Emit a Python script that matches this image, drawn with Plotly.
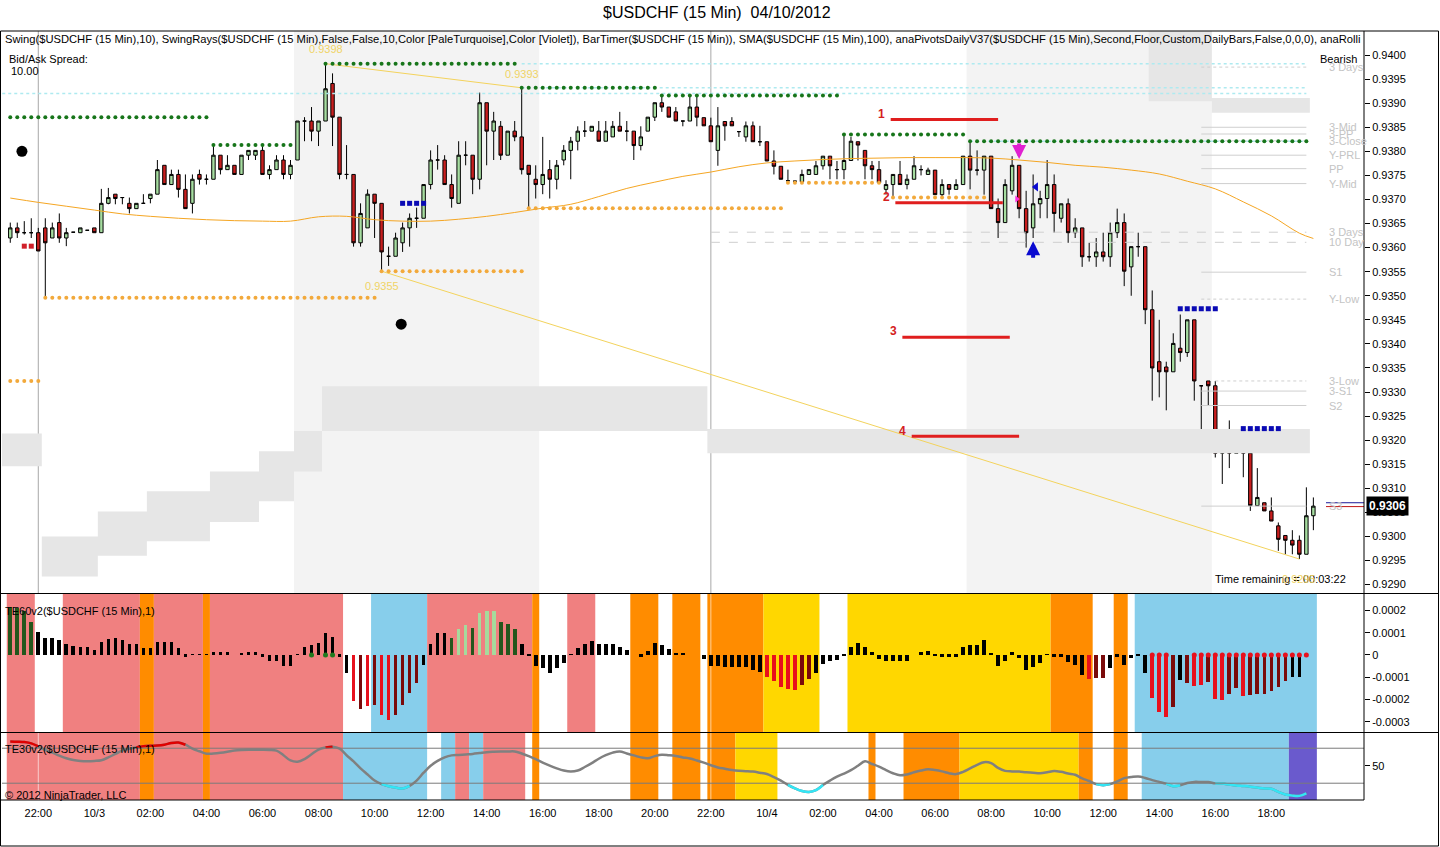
# $USDCHF 15 min chart with TE60v2 / TE30v2 panels, rebuilt in plotly
# writes out.html

import pandas as pd
import plotly.graph_objects as go

W, H = 1440, 847

# ---------------------------------------------------------------- price bars
first_bar = "2012-10-02 21:00"   # bars are 15 min, last one 04/10 19:30

opens = [
    0.93620, 0.93641, 0.93631, 0.93631, 0.93631, 0.93641, 0.93620, 0.93652, 0.93620, 0.93632,
    0.93631, 0.93636, 0.93641, 0.93631, 0.93692, 0.93711, 0.93704, 0.93692, 0.93681, 0.93692,
    0.93702, 0.93711, 0.93771, 0.93731, 0.93752, 0.93721, 0.93692, 0.93752, 0.93742, 0.93742,
    0.93792, 0.93762, 0.93771, 0.93752, 0.93792, 0.93792, 0.93802, 0.93752, 0.93762, 0.93782,
    0.93752, 0.93782, 0.93863, 0.93863, 0.93842, 0.93863, 0.93941, 0.93871, 0.93752, 0.93752,
    0.93610, 0.93641, 0.93711, 0.93692, 0.93582, 0.93582, 0.93610, 0.93641, 0.93661, 0.93661,
    0.93731, 0.93782, 0.93782, 0.93731, 0.93692, 0.93792, 0.93792, 0.93742, 0.93901, 0.93842,
    0.93852, 0.93792, 0.93842, 0.93830, 0.93771, 0.93742, 0.93731, 0.93762, 0.93742, 0.93782,
    0.93802, 0.93821, 0.93842, 0.93842, 0.93842, 0.93821, 0.93830, 0.93852, 0.93842, 0.93842,
    0.93812, 0.93842, 0.93871, 0.93901, 0.93892, 0.93882, 0.93863, 0.93863, 0.93892, 0.93870,
    0.93853, 0.93802, 0.93862, 0.93862, 0.93841, 0.93830, 0.93853, 0.93820, 0.93820, 0.93780,
    0.93769, 0.93739, 0.93738, 0.93737, 0.93752, 0.93752, 0.93770, 0.93790, 0.93762, 0.93762,
    0.93781, 0.93820, 0.93802, 0.93770, 0.93762, 0.93721, 0.93731, 0.93752, 0.93731, 0.93742,
    0.93762, 0.93752, 0.93761, 0.93710, 0.93731, 0.93721, 0.93731, 0.93790, 0.93761, 0.93761,
    0.93790, 0.93681, 0.93652, 0.93718, 0.93771, 0.93681, 0.93641, 0.93691, 0.93702, 0.93731,
    0.93661, 0.93691, 0.93631, 0.93641, 0.93581, 0.93581, 0.93591, 0.93581, 0.93631, 0.93652,
    0.93560, 0.93602, 0.93602, 0.93471, 0.93363, 0.93352, 0.93342, 0.93391, 0.93382, 0.93450,
    0.93313, 0.93323, 0.93313, 0.93173, 0.93212, 0.93173, 0.93182, 0.93173, 0.93064, 0.93070,
    0.93053, 0.93022, 0.93002, 0.92992, 0.92992, 0.92963, 0.93043,
]
highs = [
    0.93652, 0.93652, 0.93655, 0.93661, 0.93641, 0.93661, 0.93652, 0.93671, 0.93641, 0.93632,
    0.93641, 0.93636, 0.93641, 0.93722, 0.93724, 0.93711, 0.93704, 0.93704, 0.93692, 0.93711,
    0.93711, 0.93782, 0.93771, 0.93762, 0.93762, 0.93752, 0.93752, 0.93762, 0.93752, 0.93814,
    0.93792, 0.93792, 0.93771, 0.93792, 0.93802, 0.93802, 0.93813, 0.93771, 0.93792, 0.93792,
    0.93782, 0.93863, 0.93871, 0.93892, 0.93863, 0.93982, 0.93962, 0.93871, 0.93813, 0.93752,
    0.93692, 0.93721, 0.93711, 0.93692, 0.93602, 0.93631, 0.93652, 0.93671, 0.93683, 0.93731,
    0.93802, 0.93813, 0.93792, 0.93752, 0.93821, 0.93821, 0.93792, 0.93922, 0.93901, 0.93882,
    0.93863, 0.93842, 0.93863, 0.93932, 0.93771, 0.93771, 0.93830, 0.93782, 0.93782, 0.93813,
    0.93830, 0.93852, 0.93863, 0.93852, 0.93863, 0.93863, 0.93863, 0.93882, 0.93863, 0.93842,
    0.93852, 0.93871, 0.93901, 0.93916, 0.93892, 0.93892, 0.93863, 0.93913, 0.93913, 0.93870,
    0.93870, 0.93892, 0.93862, 0.93871, 0.93841, 0.93862, 0.93862, 0.93853, 0.93820, 0.93802,
    0.93769, 0.93762, 0.93738, 0.93762, 0.93762, 0.93780, 0.93790, 0.93790, 0.93780, 0.93835,
    0.93830, 0.93820, 0.93802, 0.93780, 0.93780, 0.93740, 0.93752, 0.93780, 0.93752, 0.93790,
    0.93771, 0.93766, 0.93761, 0.93742, 0.93731, 0.93742, 0.93790, 0.93821, 0.93802, 0.93790,
    0.93790, 0.93702, 0.93742, 0.93790, 0.93771, 0.93718, 0.93752, 0.93718, 0.93782, 0.93752,
    0.93691, 0.93702, 0.93661, 0.93641, 0.93610, 0.93620, 0.93631, 0.93652, 0.93681, 0.93671,
    0.93602, 0.93631, 0.93602, 0.93511, 0.93450, 0.93363, 0.93422, 0.93461, 0.93450, 0.93450,
    0.93313, 0.93323, 0.93323, 0.93222, 0.93241, 0.93222, 0.93192, 0.93182, 0.93142, 0.93070,
    0.93081, 0.93029, 0.93002, 0.93013, 0.93002, 0.93102, 0.93081,
]
lows = [
    0.93610, 0.93620, 0.93627, 0.93620, 0.93593, 0.93496, 0.93620, 0.93610, 0.93603, 0.93632,
    0.93631, 0.93636, 0.93631, 0.93631, 0.93690, 0.93690, 0.93690, 0.93671, 0.93681, 0.93692,
    0.93692, 0.93711, 0.93731, 0.93731, 0.93704, 0.93681, 0.93671, 0.93731, 0.93731, 0.93742,
    0.93752, 0.93762, 0.93752, 0.93752, 0.93782, 0.93782, 0.93752, 0.93742, 0.93762, 0.93742,
    0.93742, 0.93782, 0.93821, 0.93821, 0.93811, 0.93863, 0.93811, 0.93742, 0.93742, 0.93602,
    0.93602, 0.93641, 0.93620, 0.93551, 0.93562, 0.93582, 0.93591, 0.93602, 0.93641, 0.93661,
    0.93721, 0.93762, 0.93731, 0.93683, 0.93692, 0.93771, 0.93711, 0.93721, 0.93771, 0.93782,
    0.93782, 0.93792, 0.93821, 0.93752, 0.93682, 0.93702, 0.93711, 0.93702, 0.93721, 0.93771,
    0.93742, 0.93802, 0.93830, 0.93842, 0.93821, 0.93821, 0.93830, 0.93842, 0.93821, 0.93782,
    0.93802, 0.93842, 0.93863, 0.93882, 0.93871, 0.93863, 0.93852, 0.93863, 0.93852, 0.93853,
    0.93820, 0.93770, 0.93822, 0.93853, 0.93830, 0.93820, 0.93820, 0.93811, 0.93780, 0.93752,
    0.93742, 0.93738, 0.93738, 0.93737, 0.93752, 0.93752, 0.93762, 0.93742, 0.93742, 0.93742,
    0.93781, 0.93781, 0.93742, 0.93742, 0.93735, 0.93710, 0.93704, 0.93731, 0.93721, 0.93742,
    0.93750, 0.93752, 0.93710, 0.93707, 0.93710, 0.93721, 0.93731, 0.93721, 0.93750, 0.93710,
    0.93681, 0.93620, 0.93652, 0.93710, 0.93661, 0.93600, 0.93620, 0.93661, 0.93661, 0.93631,
    0.93652, 0.93610, 0.93620, 0.93560, 0.93571, 0.93560, 0.93571, 0.93560, 0.93620, 0.93520,
    0.93500, 0.93581, 0.93441, 0.93282, 0.93289, 0.93262, 0.93342, 0.93363, 0.93373, 0.93282,
    0.93190, 0.93273, 0.93164, 0.93109, 0.93142, 0.93173, 0.93123, 0.93053, 0.93064, 0.93053,
    0.93032, 0.92970, 0.92963, 0.92963, 0.92953, 0.92963, 0.93013,
]
closes = [
    0.93641, 0.93631, 0.93631, 0.93631, 0.93593, 0.93610, 0.93641, 0.93620, 0.93631, 0.93632,
    0.93641, 0.93636, 0.93631, 0.93692, 0.93704, 0.93702, 0.93704, 0.93681, 0.93692, 0.93692,
    0.93711, 0.93762, 0.93731, 0.93752, 0.93721, 0.93681, 0.93742, 0.93742, 0.93742, 0.93792,
    0.93762, 0.93771, 0.93752, 0.93792, 0.93802, 0.93802, 0.93752, 0.93762, 0.93782, 0.93752,
    0.93771, 0.93863, 0.93863, 0.93842, 0.93863, 0.93930, 0.93871, 0.93752, 0.93752, 0.93610,
    0.93671, 0.93711, 0.93692, 0.93591, 0.93582, 0.93620, 0.93641, 0.93661, 0.93661, 0.93731,
    0.93782, 0.93782, 0.93731, 0.93702, 0.93792, 0.93792, 0.93742, 0.93901, 0.93842, 0.93863,
    0.93792, 0.93842, 0.93830, 0.93762, 0.93752, 0.93731, 0.93752, 0.93742, 0.93771, 0.93802,
    0.93821, 0.93842, 0.93842, 0.93852, 0.93821, 0.93842, 0.93852, 0.93842, 0.93842, 0.93812,
    0.93830, 0.93871, 0.93901, 0.93892, 0.93871, 0.93863, 0.93863, 0.93892, 0.93871, 0.93853,
    0.93820, 0.93853, 0.93853, 0.93853, 0.93841, 0.93853, 0.93820, 0.93820, 0.93780, 0.93769,
    0.93742, 0.93739, 0.93738, 0.93752, 0.93762, 0.93770, 0.93790, 0.93770, 0.93762, 0.93781,
    0.93821, 0.93813, 0.93770, 0.93762, 0.93735, 0.93731, 0.93752, 0.93731, 0.93742, 0.93770,
    0.93762, 0.93761, 0.93710, 0.93731, 0.93721, 0.93731, 0.93790, 0.93761, 0.93761, 0.93790,
    0.93681, 0.93652, 0.93731, 0.93771, 0.93681, 0.93631, 0.93691, 0.93702, 0.93731, 0.93671,
    0.93691, 0.93631, 0.93641, 0.93581, 0.93581, 0.93591, 0.93581, 0.93631, 0.93652, 0.93551,
    0.93602, 0.93602, 0.93471, 0.93350, 0.93342, 0.93342, 0.93401, 0.93382, 0.93450, 0.93323,
    0.93313, 0.93313, 0.93173, 0.93212, 0.93173, 0.93192, 0.93173, 0.93064, 0.93081, 0.93053,
    0.93032, 0.92994, 0.92992, 0.92982, 0.92963, 0.93043, 0.93063,
]

# SMA(100), read once an hour
sma_time = list(pd.date_range("2012-10-02 21:00", "2012-10-04 19:00", freq="1h")) + [pd.Timestamp("2012-10-04 19:30")]
sma_val = [
    0.93703, 0.93694, 0.93686, 0.93678, 0.93670, 0.93665, 0.93661, 0.93658, 0.93656, 0.93655,
    0.93655, 0.93664, 0.93665, 0.93658, 0.93655, 0.93655, 0.93659, 0.93665, 0.93673, 0.93682,
    0.93690, 0.93706, 0.93723, 0.93736, 0.93748, 0.93757, 0.93768, 0.93776, 0.93780, 0.93783,
    0.93785, 0.93786, 0.93787, 0.93787, 0.93787, 0.93786, 0.93782, 0.93777, 0.93771, 0.93767,
    0.93761, 0.93753, 0.93738, 0.93722, 0.93695, 0.93666, 0.93630, 0.93619,
]

# Swing(10): swing high / low levels (first bar, last bar, price)
swing_hi_start = ["2012-10-02 21:00", "2012-10-03 04:15", "2012-10-03 08:15", "2012-10-03 15:15",
                  "2012-10-03 20:15", "2012-10-04 02:45", "2012-10-04 07:15"]
swing_hi_end = ["2012-10-03 04:00", "2012-10-03 07:00", "2012-10-03 15:00", "2012-10-03 20:00",
                "2012-10-04 02:30", "2012-10-04 07:00", "2012-10-04 19:15"]
swing_hi_price = [0.93871, 0.93813, 0.93982, 0.93932, 0.93916, 0.93835, 0.93821]

swing_lo_start = ["2012-10-02 21:00", "2012-10-02 22:15", "2012-10-03 10:15", "2012-10-03 15:30",
                  "2012-10-04 00:45", "2012-10-04 04:30"]
swing_lo_end = ["2012-10-02 22:00", "2012-10-03 10:00", "2012-10-03 15:15", "2012-10-04 00:30",
                "2012-10-04 04:00", "2012-10-04 07:45"]
swing_lo_price = [0.93323, 0.93496, 0.93551, 0.93682, 0.93735, 0.93704]

# SwingRays: high ray and low ray (start, end)
ray_t0 = ["2012-10-03 08:15", "2012-10-03 10:15"]
ray_p0 = [0.93982, 0.93551]
ray_t1 = ["2012-10-03 15:15", "2012-10-04 19:00"]
ray_p1 = [0.93932, 0.92953]

# PaleTurquoise ray levels
cyan_start = ["2012-10-02 20:30", "2012-10-03 15:15", "2012-10-03 15:15", "2012-10-04 07:15"]
cyan_price = [0.93920, 0.93932, 0.93982, 0.93821]
cyan_end = "2012-10-04 19:15"

# anaPivotsDailyV37 levels
piv_name = ["3 Days", "3-Mid", "3-PP", "3-Close", "Y-PRL", "PP", "Y-Mid", "3 Days", "10 Day",
            "S1", "Y-Low", "3-Low", "3-S1", "S2", "S3"]
piv_price = [0.93975, 0.93850, 0.93836, 0.93822, 0.93792, 0.93764, 0.93733, 0.93632, 0.93611,
             0.93549, 0.93493, 0.93323, 0.93302, 0.93272, 0.93063]
piv_start = ["2012-10-04 15:30", "2012-10-04 15:30", "2012-10-04 15:30", "2012-10-04 15:30",
             "2012-10-04 15:30", "2012-10-04 15:30", "2012-10-04 15:30", "2012-10-03 22:00",
             "2012-10-03 22:00", "2012-10-04 15:30", "2012-10-04 15:30", "2012-10-04 16:00",
             "2012-10-04 15:30", "2012-10-04 15:30", "2012-10-04 15:30"]
piv_dash = ["dot", "solid", "solid", "dot", "solid", "solid", "solid", "dash", "dash",
            "solid", "dot", "dot", "solid", "solid", "solid"]
piv_end = "2012-10-04 19:15"
piv_label_time = "2012-10-04 20:00"

# rolling range bands (step start, top, bottom) -- last row closes the step
band_lo_time = ["2012-10-02 20:37:30", "2012-10-02 22:07:30", "2012-10-03 00:07:30", "2012-10-03 01:52:30",
                "2012-10-03 04:07:30", "2012-10-03 05:52:30", "2012-10-03 07:07:30", "2012-10-03 08:07:30",
                "2012-10-03 21:52:30", "2012-10-04 19:22:30"]
band_lo_top = [0.93214, 0.93000, 0.93052, 0.93094, 0.93135, 0.93177, 0.93219, 0.93312, 0.93223, 0.93223]
band_lo_bot = [0.93146, 0.92917, 0.92960, 0.92990, 0.93030, 0.93073, 0.93135, 0.93219, 0.93173, 0.93173]

band_hi_time = ["2012-10-04 13:37:30", "2012-10-04 15:52:30", "2012-10-04 19:22:30"]
band_hi_top = [0.94060, 0.93911, 0.93911]
band_hi_bot = [0.93904, 0.93880, 0.93880]

# European sessions (first bar, last bar)
session_first = ["2012-10-03 07:15", "2012-10-04 07:15"]
session_last = ["2012-10-03 15:45", "2012-10-04 15:45"]
day_breaks = ["2012-10-02 22:00", "2012-10-03 22:00"]

# hand drawn lines 1-4
drawn_label = ["1", "2", "3", "4"]
drawn_t0 = ["2012-10-04 04:25", "2012-10-04 04:35", "2012-10-04 04:50", "2012-10-04 05:10"]
drawn_t1 = ["2012-10-04 08:15", "2012-10-04 08:25", "2012-10-04 08:40", "2012-10-04 09:00"]
drawn_price = [0.93866, 0.93693, 0.93414, 0.93208]

# markers on the price panel
black_dot_time = ["2012-10-02 21:25", "2012-10-03 10:57"]
black_dot_price = [0.93800, 0.93441]
blue_dash_start = ["2012-10-03 11:00", "2012-10-04 14:45", "2012-10-04 17:00"]
blue_dash_end = ["2012-10-03 11:45", "2012-10-04 16:00", "2012-10-04 18:15"]
blue_dash_price = [0.93692, 0.93473, 0.93224]
red_dash_start, red_dash_end, red_dash_price = "2012-10-02 21:30", "2012-10-02 21:45", 0.93603
arrow_dn = ("2012-10-04 09:00", 0.93784)   # tip of the magenta arrow
arrow_up = ("2012-10-04 09:30", 0.93613)   # tip of the blue arrow
mark_magenta = ("2012-10-04 08:55", 0.93701)
mark_blue = ("2012-10-04 09:36", 0.93726)
last_price = 0.93063
bid_line, ask_line = 0.93070, 0.93063

# ------------------------------------------------------------- TE60v2 panel
te60 = [  # x 1e-5, one per bar
    21.7, 20.9, 19.7, 14.9, 10.2, 7.8, 7.8, 6.7, 4.8, 4.2,
    3.7, 3.7, 2.2, 6.0, 7.2, 7.5, 6.7, 4.8, 4.8, 3.0,
    3.3, 6.0, 5.7, 5.7, 3.0, -0.7, 0.2, 0.2, 0.3, 1.5,
    1.5, 1.5, 0.0, 1.0, 1.5, 1.5, -0.7, -2.5, -2.5, -4.9,
    -4.9, 0.3, 3.7, 4.5, 5.2, 9.7, 8.2, -0.7, -8.2, -20.5,
    -24.4, -22.9, -22.4, -26.9, -29.1, -26.9, -22.4, -17.2, -12.7, -4.5,
    4.8, 9.7, 9.7, 7.5, 11.5, 13.5, 12.0, 19.0, 19.6, 19.9,
    14.6, 13.8, 11.5, 4.8, -0.3, -4.9, -6.0, -8.2, -6.0, -3.7,
    0.3, 3.0, 4.8, 6.3, 4.8, 4.8, 4.8, 3.7, 2.2, 0.0,
    -0.7, 1.8, 5.2, 4.5, 2.5, 0.7, 0.7, 0.0, 0.0, -1.8,
    -4.9, -4.9, -5.5, -5.5, -5.5, -5.5, -6.7, -7.5, -10.0, -11.5,
    -14.5, -15.2, -15.7, -13.5, -10.9, -8.2, -4.0, -2.7, -2.2, -0.3,
    3.7, 5.2, 3.7, 1.5, -1.8, -2.5, -2.5, -2.5, -2.5, 0.0,
    1.5, 1.9, -0.3, -0.7, -0.7, -0.7, 3.7, 4.5, 4.5, 6.7,
    0.7, -4.9, -2.5, 1.5, -1.5, -6.7, -5.2, -3.7, 0.3, -0.7,
    -0.7, -3.3, -4.5, -9.0, -10.9, -10.5, -10.5, -6.0, -0.7, -4.5,
    -1.5, -0.3, -8.2, -19.4, -25.4, -28.0, -23.2, -11.2, -12.7, -13.9,
    -13.5, -12.0, -19.7, -20.0, -17.5, -15.0, -18.5, -18.0, -17.5, -17.5,
    -16.0, -14.5, -11.8, -9.7, -9.7, -0.7, None,
]
# G dark green, g light green, k black, R red, r dark red
te60_state = ("GGGGkkkkkk" "kkkkkkkkkk" "kkkkkkkkkk" "kkkkkkkkkk" "kkkkkkkkkR"
              "rRrRRrrrrk" "kkkGggGggg" "GGGkkkkkkk" "kkkkkkkkkk" "kkkkkkkkkk"
              "kkkkkkkkRR" "RRRrrkkkkk" "kkkkkkkkkk" "kkkkkkkkkk" "kkkkkkkkkk"
              "kkkkRrrkkk" "kkkRRRrkrR" "RrRRrrRrrr" "rrrkkkk")
te60_green_dots = ["2012-10-03 07:45", "2012-10-03 08:15", "2012-10-03 08:30"]
te60_red_dots = ["2012-10-04 13:45", "2012-10-04 14:00", "2012-10-04 14:15", "2012-10-04 15:15",
                 "2012-10-04 15:30", "2012-10-04 15:45", "2012-10-04 16:00", "2012-10-04 16:15",
                 "2012-10-04 16:30", "2012-10-04 16:45", "2012-10-04 17:00", "2012-10-04 17:15",
                 "2012-10-04 17:30", "2012-10-04 17:45", "2012-10-04 18:00", "2012-10-04 18:15",
                 "2012-10-04 18:30", "2012-10-04 18:45", "2012-10-04 19:00", "2012-10-04 19:15"]

te60_bg_first = ["2012-10-02 21:00", "2012-10-02 23:00", "2012-10-03 01:45", "2012-10-03 02:15",
                 "2012-10-03 04:00", "2012-10-03 04:15", "2012-10-03 10:00", "2012-10-03 12:00",
                 "2012-10-03 15:45", "2012-10-03 17:00", "2012-10-03 19:15", "2012-10-03 20:45",
                 "2012-10-03 22:00", "2012-10-04 00:00", "2012-10-04 03:00", "2012-10-04 10:15",
                 "2012-10-04 12:30", "2012-10-04 13:15"]
te60_bg_last = ["2012-10-02 21:45", "2012-10-03 01:30", "2012-10-03 02:00", "2012-10-03 03:45",
                "2012-10-03 04:00", "2012-10-03 08:45", "2012-10-03 11:45", "2012-10-03 15:30",
                "2012-10-03 15:45", "2012-10-03 17:45", "2012-10-03 20:00", "2012-10-03 21:30",
                "2012-10-03 23:45", "2012-10-04 01:45", "2012-10-04 10:00", "2012-10-04 11:30",
                "2012-10-04 12:45", "2012-10-04 19:30"]
te60_bg_state = ["down", "down", "flat", "down", "flat", "down", "up", "down", "flat", "down",
                 "flat", "flat", "flat", "mid", "mid", "flat", "flat", "up"]

# ------------------------------------------------------------- TE30v2 panel
te30 = [
    77.8, 77.5, 77.0, 75.5, 72.0, 68.0, 65.0, 61.5, 58.5, 56.5,
    55.5, 55.2, 55.5, 56.3, 59.5, 63.5, 67.4, 69.5, 71.0, 72.2,
    72.8, 73.0, 74.0, 76.0, 76.5, 74.0, 69.5, 66.5, 63.7, 64.0,
    64.8, 66.0, 67.4, 68.0, 68.2, 68.2, 68.2, 68.0, 67.2, 62.0,
    56.0, 54.5, 57.5, 63.0, 68.5, 70.8, 71.8, 69.5, 62.0, 55.0,
    47.0, 40.0, 33.0, 29.0, 26.6, 25.0, 24.0, 27.0, 33.0, 42.0,
    50.0, 55.5, 59.5, 61.8, 62.3, 62.9, 63.5, 64.5, 65.5, 66.0,
    66.3, 66.3, 66.3, 64.0, 61.0, 57.5, 53.5, 50.0, 47.0, 44.5,
    43.3, 44.5, 48.5, 53.0, 58.0, 62.0, 65.0, 66.3, 64.0, 61.8,
    59.5, 58.5, 61.0, 62.6, 62.0, 61.1, 59.5, 58.2, 56.0, 53.5,
    50.5, 48.0, 46.5, 45.0, 44.1, 43.8, 43.3, 42.0, 40.5, 37.0,
    33.0, 28.0, 24.0, 21.0, 19.9, 22.0, 28.0, 33.0, 37.5, 41.0,
    45.0, 50.0, 55.0, 52.0, 48.9, 45.0, 41.4, 39.0, 40.0, 42.5,
    44.5, 45.9, 45.0, 43.5, 41.5, 40.4, 43.0, 47.0, 51.0, 54.0,
    53.0, 47.5, 44.1, 43.5, 43.3, 42.5, 42.0, 41.4, 42.5, 44.0,
    43.0, 41.0, 39.6, 35.5, 32.5, 29.0, 27.8, 29.0, 32.0, 35.8,
    37.0, 37.7, 36.0, 33.5, 31.5, 29.5, 26.6, 27.5, 30.3, 31.5,
    31.4, 31.4, 29.8, 29.6, 28.5, 27.5, 26.8, 26.0, 25.0, 24.0,
    23.6, 20.0, 17.0, 15.8, 15.5, 18.5, None,
]
te30_upper, te30_lower = 70, 30

te30_bg_first = ["2012-10-02 21:00", "2012-10-03 01:45", "2012-10-03 02:15", "2012-10-03 04:00",
                 "2012-10-03 04:15", "2012-10-03 09:00", "2012-10-03 12:30", "2012-10-03 13:00",
                 "2012-10-03 13:30", "2012-10-03 14:00", "2012-10-03 15:45", "2012-10-03 19:15",
                 "2012-10-03 20:45", "2012-10-03 22:00", "2012-10-03 23:00", "2012-10-04 03:45",
                 "2012-10-04 05:00", "2012-10-04 07:00", "2012-10-04 11:15", "2012-10-04 12:30",
                 "2012-10-04 13:30", "2012-10-04 18:45"]
te30_bg_last = ["2012-10-03 01:30", "2012-10-03 02:00", "2012-10-03 03:45", "2012-10-03 04:00",
                "2012-10-03 08:45", "2012-10-03 11:45", "2012-10-03 12:45", "2012-10-03 13:15",
                "2012-10-03 13:45", "2012-10-03 15:15", "2012-10-03 15:45", "2012-10-03 20:00",
                "2012-10-03 21:30", "2012-10-03 22:45", "2012-10-04 00:15", "2012-10-04 03:45",
                "2012-10-04 06:45", "2012-10-04 11:00", "2012-10-04 11:30", "2012-10-04 12:45",
                "2012-10-04 18:30", "2012-10-04 19:30"]
te30_bg_state = ["down", "flat", "down", "flat", "down", "up", "up", "down", "up", "down",
                 "flat", "flat", "flat", "flat", "mid", "flat", "flat", "mid", "flat", "flat",
                 "up", "extreme"]

# ------------------------------------------------------------- axes text
price_ticks = [0.9290, 0.9295, 0.9300, 0.9305, 0.9310, 0.9315, 0.9320, 0.9325, 0.9330, 0.9335,
               0.9340, 0.9345, 0.9350, 0.9355, 0.9360, 0.9365, 0.9370, 0.9375, 0.9380, 0.9385,
               0.9390, 0.9395, 0.9400]
te60_ticks = [-0.0003, -0.0002, -0.0001, 0, 0.0001, 0.0002]
te60_tick_text = ["-0.0003", "-0.0002", "-0.0001", "0", "0.0001", "0.0002"]
time_ticks = list(pd.date_range("2012-10-02 22:00", "2012-10-04 18:00", freq="2h"))
time_tick_text = ["22:00", "10/3", "02:00", "04:00", "06:00", "08:00", "10:00", "12:00", "14:00",
                  "16:00", "18:00", "20:00", "22:00", "10/4", "02:00", "04:00", "06:00", "08:00",
                  "10:00", "12:00", "14:00", "16:00", "18:00"]
indicator_text = ("Swing($USDCHF (15 Min),10), SwingRays($USDCHF (15 Min),False,False,10,Color [PaleTurquoise],"
                  "Color [Violet]), BarTimer($USDCHF (15 Min)), SMA($USDCHF (15 Min),100), "
                  "anaPivotsDailyV37($USDCHF (15 Min),Second,Floor,Custom,DailyBars,False,0,0,0), anaRolli")

# ------------------------------------------------------------- styling
FONT = "Liberation Sans, Arial, sans-serif"
state_colors = {"down": "#F08080", "up": "#87CEEB", "flat": "#FF8C00", "mid": "#FFD700", "extreme": "#6A5ACD"}
hist_colors = {"G": "#24561C", "g": "#A6DA9C", "k": "black", "R": "#E8101C", "r": "#7A0A0A"}
HALF = pd.Timedelta(minutes=7.5)


def px(x):
    return x / W


def py(y):
    return 1 - y / H


times = pd.date_range(first_bar, periods=len(closes), freq="15min")
x_range = ["2012-10-02 20:42:18", "2012-10-04 21:18:24"]

fig = go.Figure()

# rolling range bands
for t, top, bot in [(band_lo_time, band_lo_top, band_lo_bot), (band_hi_time, band_hi_top, band_hi_bot)]:
    fig.add_trace(go.Scatter(x=t, y=top, mode="lines", line=dict(width=0, shape="hv"),
                             hoverinfo="skip"))
    fig.add_trace(go.Scatter(x=t, y=bot, mode="lines", line=dict(width=0, shape="hv"),
                             fill="tonexty", fillcolor="#E6E6E6", hoverinfo="skip"))

# pivots
for name, p, t0, dash in zip(piv_name, piv_price, piv_start, piv_dash):
    fig.add_trace(go.Scatter(x=[t0, piv_end], y=[p, p], mode="lines",
                             line=dict(color="#CFCFCF", width=1, dash=dash), hoverinfo="skip"))

# pale turquoise rays
for t0, p in zip(cyan_start, cyan_price):
    fig.add_trace(go.Scatter(x=[t0, cyan_end], y=[p, p], mode="lines",
                             line=dict(color="#AEEAF0", width=1.5, dash="dot"), hoverinfo="skip"))

# SMA 100
fig.add_trace(go.Scatter(x=sma_time, y=sma_val, mode="lines", line=dict(color="#F5A623", width=1, shape="spline"),
                         hoverinfo="skip"))

# swing rays
for t0, p0, t1, p1 in zip(ray_t0, ray_p0, ray_t1, ray_p1):
    fig.add_trace(go.Scatter(x=[t0, t1], y=[p0, p1], mode="lines", line=dict(color="#F3D35C", width=1),
                             hoverinfo="skip"))

# swing dots
for starts, ends, prices, col in [(swing_hi_start, swing_hi_end, swing_hi_price, "#17751A"),
                                  (swing_lo_start, swing_lo_end, swing_lo_price, "#F2A93B")]:
    xs, ys = [], []
    for s, e, p in zip(starts, ends, prices):
        rng = pd.date_range(s, e, freq="15min")
        xs += list(rng)
        ys += [p] * len(rng)
    fig.add_trace(go.Scatter(x=xs, y=ys, mode="markers", marker=dict(color=col, size=4),
                             hoverinfo="skip"))

# hand drawn red lines
for t0, t1, p in zip(drawn_t0, drawn_t1, drawn_price):
    fig.add_trace(go.Scatter(x=[t0, t1], y=[p, p], mode="lines", line=dict(color="#E01E1E", width=3),
                             hoverinfo="skip"))

# candles
fig.add_trace(go.Candlestick(
    x=times, open=opens, high=highs, low=lows, close=closes,
    increasing=dict(fillcolor="#A6DDA0", line=dict(color="black", width=1)),
    decreasing=dict(fillcolor="#C81E1E", line=dict(color="black", width=1)),
    hoverinfo="skip"))

# markers
fig.add_trace(go.Scatter(x=black_dot_time, y=black_dot_price, mode="markers",
                         marker=dict(color="black", size=11)))
bx, by = [], []
for s, e, p in zip(blue_dash_start, blue_dash_end, blue_dash_price):
    rng = pd.date_range(s, e, freq="15min")
    bx += list(rng)
    by += [p] * len(rng)
fig.add_trace(go.Scatter(x=bx, y=by, mode="markers", marker=dict(color="#0A0AB4", size=5, symbol="square")))
rng = pd.date_range(red_dash_start, red_dash_end, freq="15min")
fig.add_trace(go.Scatter(x=rng, y=[red_dash_price] * len(rng), mode="markers",
                         marker=dict(color="#D0202A", size=5, symbol="square")))
fig.add_trace(go.Scatter(x=[mark_magenta[0]], y=[mark_magenta[1]], mode="markers",
                         marker=dict(color="#FF30E0", size=6, symbol="triangle-right")))
fig.add_trace(go.Scatter(x=[mark_blue[0]], y=[mark_blue[1]], mode="markers",
                         marker=dict(color="#0A0AD0", size=8, symbol="triangle-left")))

# TE60 histogram
te60_y = [v * 1e-5 if v is not None else None for v in te60]
fig.add_trace(go.Bar(x=times, y=te60_y, width=470000,
                     marker=dict(color=[hist_colors[c] for c in te60_state], line=dict(width=0)),
                     xaxis="x2", yaxis="y2", hoverinfo="skip"))
fig.add_trace(go.Scatter(x=te60_green_dots, y=[0] * len(te60_green_dots), mode="markers",
                         marker=dict(color="#1F7A1F", size=5), xaxis="x2", yaxis="y2"))
fig.add_trace(go.Scatter(x=te60_red_dots, y=[0] * len(te60_red_dots), mode="markers",
                         marker=dict(color="#E8101C", size=5), xaxis="x2", yaxis="y2"))

# TE30 line
fig.add_trace(go.Scatter(x=times, y=te30, mode="lines", line=dict(color="#808080", width=2.5, shape="spline"),
                         xaxis="x3", yaxis="y3", hoverinfo="skip"))
hi_part = [v if v is not None and v >= te30_upper else None for v in te30]
lo_part = [v if v is not None and v <= te30_lower else None for v in te30]
fig.add_trace(go.Scatter(x=times, y=hi_part, mode="lines", line=dict(color="#E00000", width=2.5, shape="spline"),
                         xaxis="x3", yaxis="y3", hoverinfo="skip"))
fig.add_trace(go.Scatter(x=times, y=lo_part, mode="lines", line=dict(color="#33E5F5", width=2.5, shape="spline"),
                         xaxis="x3", yaxis="y3", hoverinfo="skip"))

# ------------------------------------------------------------- shapes
shapes = []
for a, b in zip(session_first, session_last):
    shapes.append(dict(type="rect", xref="x", yref="y domain", x0=pd.Timestamp(a) - HALF,
                       x1=pd.Timestamp(b) + HALF, y0=0, y1=1, fillcolor="#F3F3F3",
                       line=dict(width=0), layer="below"))
for first, last, state, ax in [(te60_bg_first, te60_bg_last, te60_bg_state, "y2"),
                               (te30_bg_first, te30_bg_last, te30_bg_state, "y3")]:
    for a, b, s in zip(first, last, state):
        shapes.append(dict(type="rect", xref="x", yref=ax + " domain", x0=pd.Timestamp(a) - HALF,
                           x1=pd.Timestamp(b) + HALF, y0=0, y1=1, fillcolor=state_colors[s],
                           line=dict(width=0), layer="below"))
for t in day_breaks:
    shapes.append(dict(type="line", xref="x", yref="paper", x0=t, x1=t, y0=py(593), y1=py(31),
                       line=dict(color="#A8A8A8", width=1), layer="below"))
    shapes.append(dict(type="line", xref="x", yref="paper", x0=t, x1=t, y0=py(800), y1=py(594),
                       line=dict(color="rgba(255,255,255,0.6)", width=1), layer="below"))
for lvl in [te30_upper, te30_lower]:
    shapes.append(dict(type="line", xref="paper", yref="y3", x0=px(2), x1=px(1364), y0=lvl, y1=lvl,
                       line=dict(color="#7A7A7A", width=1)))
# bid / ask ticks at the right edge
shapes.append(dict(type="line", xref="paper", yref="y", x0=px(1326), x1=px(1364), y0=bid_line, y1=bid_line,
                   line=dict(color="#1A1A9A", width=1)))
shapes.append(dict(type="line", xref="paper", yref="y", x0=px(1326), x1=px(1364), y0=ask_line - 0.00001,
                   y1=ask_line - 0.00001, line=dict(color="#C01818", width=1)))
# frames
frame = dict(color="black", width=1)
shapes += [
    dict(type="rect", xref="paper", yref="paper", x0=px(0.5), x1=px(1438.5), y0=py(846), y1=py(31), line=frame),
    dict(type="line", xref="paper", yref="paper", x0=0, x1=px(1439), y0=py(593.5), y1=py(593.5), line=frame),
    dict(type="line", xref="paper", yref="paper", x0=0, x1=px(1439), y0=py(732.5), y1=py(732.5), line=frame),
    dict(type="line", xref="paper", yref="paper", x0=0, x1=px(1364), y0=py(800), y1=py(800), line=frame),
    dict(type="line", xref="paper", yref="paper", x0=px(1364), x1=px(1364), y0=py(800), y1=py(31), line=frame),
]

# ------------------------------------------------------------- text
ann = []


def note(text, x, y, size=11, color="black", xanchor="left", **kw):
    ann.append(dict(text=text, x=x, y=y, xref="paper", yref="paper", xanchor=xanchor, yanchor="middle",
                    showarrow=False, font=dict(family=FONT, size=size, color=color), **kw))


note("$USDCHF (15 Min)  04/10/2012", px(717), py(13), size=16, xanchor="center")
note(indicator_text, px(3), py(39), size=11.2)
note("Bid/Ask Spread:", px(7), py(59))
note("10.00", px(9), py(71))
note("Bearish", px(1359), py(59), xanchor="right")
note("Time remaining = 00:03:22", px(1348), py(579), xanchor="right")
note("TE60v2($USDCHF (15 Min),1)", px(3), py(611))
note("TE30v2($USDCHF (15 Min),1)", px(3), py(749))
note("\u00a9 2012 NinjaTrader, LLC", px(3), py(795))

# last price box on the axis
ann.append(dict(text="<b>%.4f</b>" % last_price, x=px(1366), y=last_price, xref="paper", yref="y",
                xanchor="left", yanchor="middle", showarrow=False, bgcolor="black", borderpad=2,
                font=dict(family=FONT, size=12, color="white")))

# entry arrows
for (t, p), col, ay in [(arrow_dn, "#E020D0", -17), (arrow_up, "#0A0AD0", 18)]:
    ann.append(dict(text="", x=t, y=p, xref="x", yref="y", showarrow=True, ax=0, ay=ay,
                    arrowhead=2, arrowsize=0.7, arrowwidth=4, arrowcolor=col))

# swing labels
for t, p, dy in [(swing_hi_start[2], swing_hi_price[2], 0.00030), (swing_hi_start[3], swing_hi_price[3], 0.00028),
                 (swing_lo_start[2], swing_lo_price[2], -0.00031), (ray_t1[1], ray_p1[1], -0.00042)]:
    ann.append(dict(text="%.4f" % p, x=t, y=p + dy, xref="x", yref="y", showarrow=False,
                    font=dict(family=FONT, size=11, color="#F0D466")))

# drawn line numbers
for lab, t, p in zip(drawn_label, drawn_t0, drawn_price):
    ann.append(dict(text="<b>%s</b>" % lab, x=pd.Timestamp(t) - pd.Timedelta(minutes=20), y=p + 0.00012,
                    xref="x", yref="y", showarrow=False, font=dict(family=FONT, size=12, color="#D42020")))

# pivot names
for name, p in zip(piv_name, piv_price):
    ann.append(dict(text=name, x=piv_label_time, y=p, xref="x", yref="y", xanchor="left", yanchor="middle",
                    showarrow=False, font=dict(family=FONT, size=11, color="#C4C4C4")))

# ------------------------------------------------------------- layout
xdom = [px(2), px(1364)]
axis_common = dict(showgrid=False, zeroline=False, showline=False)
fig.update_layout(
    width=W, height=H, autosize=False, margin=dict(l=0, r=0, t=0, b=0),
    paper_bgcolor="white", plot_bgcolor="white", showlegend=False, bargap=0,
    font=dict(family=FONT, size=11, color="black"),
    xaxis=dict(domain=xdom, range=x_range, type="date", anchor="y", showticklabels=False,
               rangeslider=dict(visible=False), **axis_common),
    xaxis2=dict(domain=xdom, matches="x", type="date", anchor="y2", showticklabels=False, **axis_common),
    xaxis3=dict(domain=xdom, matches="x", type="date", anchor="y3", tickvals=time_ticks,
                ticktext=time_tick_text, ticks="", tickfont=dict(size=11), ticklabelstandoff=5,
                **axis_common),
    yaxis=dict(domain=[py(593), py(31)], range=[0.928825, 0.940500], side="right", anchor="x",
               tickvals=price_ticks, tickformat=".4f", ticks="outside", ticklen=5, tickcolor="black",
               tickfont=dict(size=11), **axis_common),
    yaxis2=dict(domain=[py(732), py(594)], range=[-0.0003453, 0.0002735], side="right", anchor="x2",
                tickvals=te60_ticks, ticktext=te60_tick_text, ticks="outside", ticklen=5, tickcolor="black",
                tickfont=dict(size=11), **axis_common),
    yaxis3=dict(domain=[py(800), py(733)], range=[10.8, 87.4], side="right", anchor="x3",
                tickvals=[50], ticks="outside", ticklen=5, tickcolor="black", tickfont=dict(size=11),
                **axis_common),
    shapes=shapes, annotations=ann,
)

fig.write_html("out.html", config={"displayModeBar": False},
               post_script="document.body.style.margin='0';document.body.style.overflow='hidden';")
